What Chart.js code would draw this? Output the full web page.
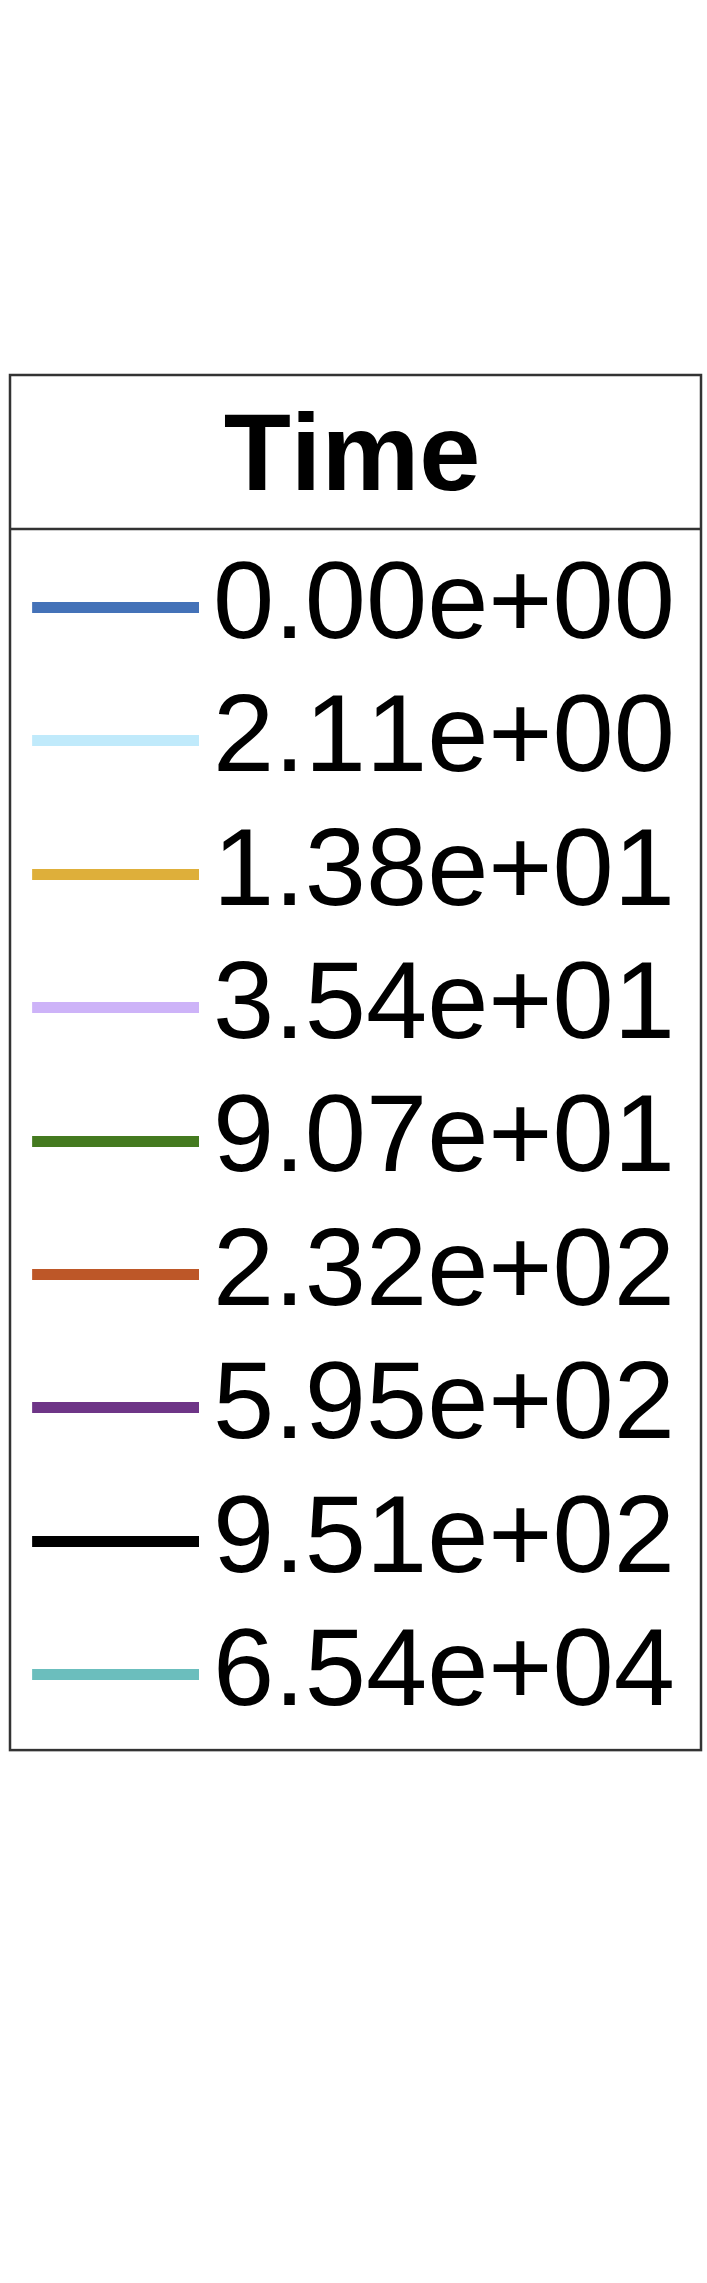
<!DOCTYPE html>
<html lang="en">
<head>
    <meta charset="UTF-8">
    <meta name="viewport" content="width=device-width, initial-scale=1.0">
    <title>Time legend</title>
    <style>
        html, body { margin: 0; padding: 0; background: #fff; }
        #wrap { width: 707px; height: 2283px; }
    </style>
</head>
<body>
    <div id="wrap"><canvas id="myChart"></canvas></div>
</body>
<script src="https://cdn.jsdelivr.net/npm/chart.js@4.4.0/dist/chart.umd.min.js"></script>
<script>
    // legend entries (time values) and their line colours
    var timeLabels = ["0.00e+00", "2.11e+00", "1.38e+01", "3.54e+01", "9.07e+01",
                      "2.32e+02", "5.95e+02", "9.51e+02", "6.54e+04"];
    var lineColors = ["#4472B8", "#C0EAFB", "#DEAF3A", "#CDB3F8", "#447A1F",
                      "#BD5728", "#6E3587", "#000000", "#6BBEBD"];

    var fontSize = 110;
    var slotWidth = 129;      // legend box slot
    var markLen = 167, markThick = 11, markShift = 22;
    var titlePad = {top: 30, bottom: 14};

    // line marker used as legend point style
    function lineMarker(color) {
        var c = document.createElement('canvas');
        c.width = (markLen / 2 + markShift) * 2;
        c.height = markThick;
        var g = c.getContext('2d');
        g.fillStyle = color;
        g.fillRect(c.width / 2 + markShift - markLen / 2, 0, markLen, markThick);
        return c;
    }
    var markers = lineColors.map(lineMarker);

    // no kerning, so every label has the same width and lines up
    var noKerning = {
        id: 'noKerning',
        beforeLayout: function(chart) { chart.ctx.fontKerning = 'none'; },
        beforeDraw: function(chart) { chart.ctx.fontKerning = 'none'; }
    };

    // frame around the legend + line under the title
    var legendFrame = {
        id: 'legendFrame',
        afterDraw: function(chart) {
            var lg = chart.legend;
            var ctx = chart.ctx;
            var top = lg.top;
            var bottom = lg.bottom + 10.5;
            var left = 10, right = chart.width - 6;
            var sep = top + fontSize + titlePad.top + titlePad.bottom;
            ctx.save();
            ctx.strokeStyle = '#333333';
            ctx.lineWidth = 2.5;
            ctx.strokeRect(left, top, right - left, bottom - top);
            ctx.beginPath();
            ctx.moveTo(left, sep);
            ctx.lineTo(right, sep);
            ctx.stroke();
            ctx.restore();
        }
    };

    var datasets = timeLabels.map(function(t, i) {
        return { label: t, data: [], borderColor: lineColors[i], backgroundColor: lineColors[i], borderWidth: 3 };
    });

    var ctx = document.getElementById('myChart').getContext('2d');
    var myChart = new Chart(ctx, {
        type: 'line',
        data: { labels: [], datasets: datasets },
        plugins: [noKerning, legendFrame],
        options: {
            responsive: true,
            maintainAspectRatio: false,
            animation: false,
            layout: { padding: { top: 375, left: 10, right: 13, bottom: 0 } },
            scales: {
                x: { display: false },
                y: { display: false }
            },
            plugins: {
                tooltip: { enabled: false },
                legend: {
                    position: 'top',
                    align: 'center',
                    maxHeight: 2000,
                    title: {
                        display: true,
                        text: 'Time',
                        color: '#000',
                        padding: titlePad,
                        font: { family: "'Liberation Sans', Arial, sans-serif", size: fontSize, weight: 'bold', lineHeight: 1 }
                    },
                    labels: {
                        usePointStyle: true,
                        pointStyleWidth: slotWidth,
                        boxHeight: markThick,
                        padding: 23.4,
                        color: '#000',
                        font: { family: "'Liberation Sans', Arial, sans-serif", size: fontSize },
                        generateLabels: function(chart) {
                            return chart.data.datasets.map(function(ds, i) {
                                return {
                                    text: ds.label,
                                    fillStyle: ds.borderColor,
                                    strokeStyle: ds.borderColor,
                                    lineWidth: 0,
                                    pointStyle: markers[i],
                                    hidden: false,
                                    datasetIndex: i
                                };
                            });
                        }
                    }
                }
            }
        }
    });
</script>
</html>
